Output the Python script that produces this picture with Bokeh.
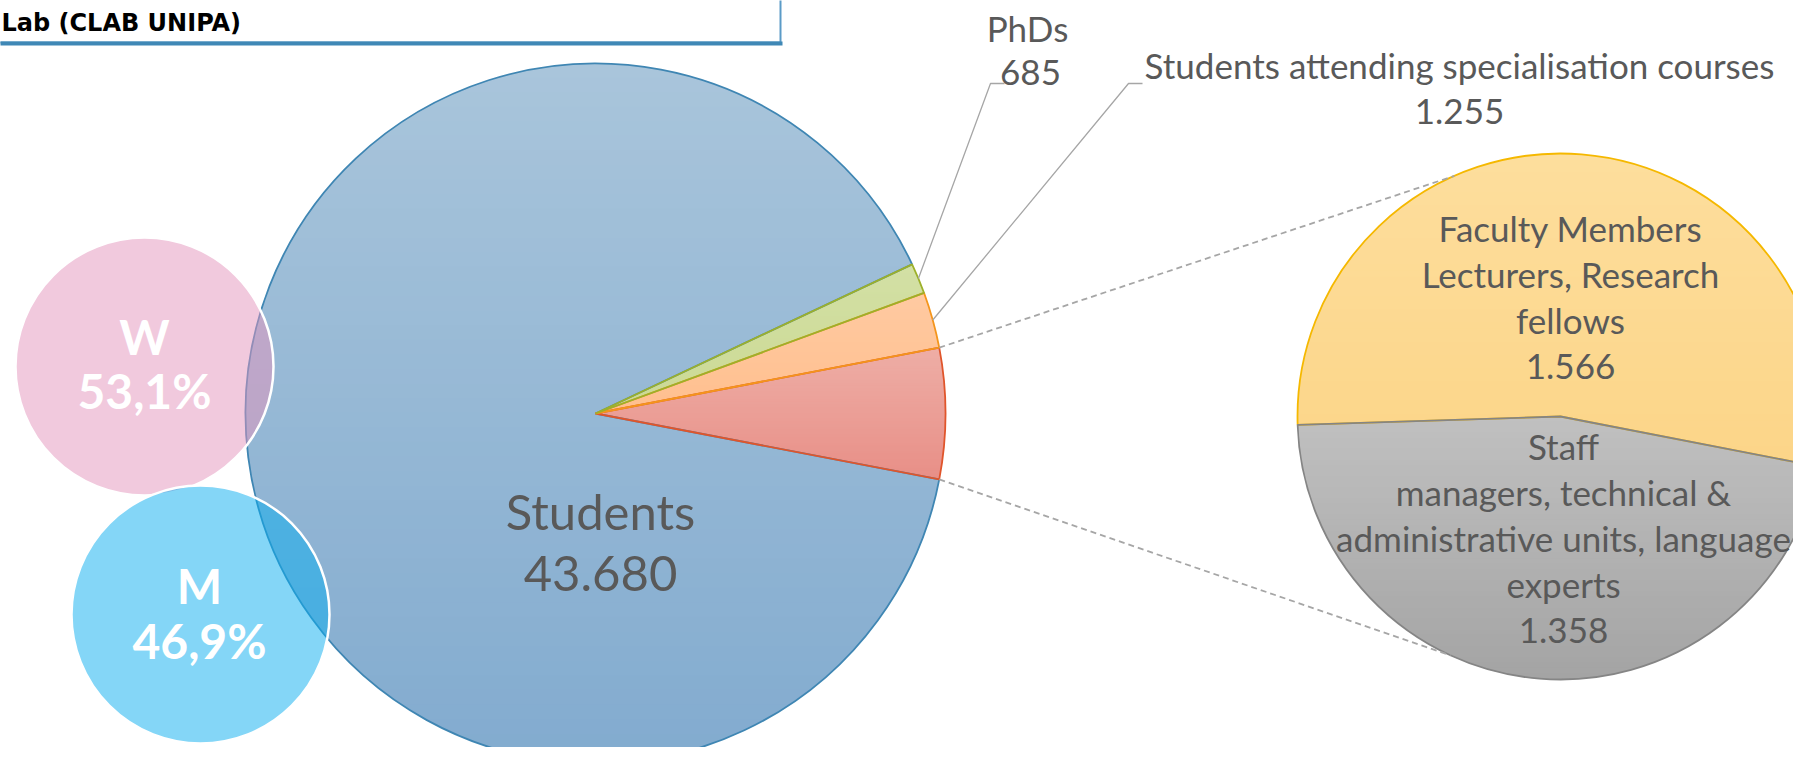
import numpy as np
from bokeh.plotting import figure
from bokeh.models import Range1d, ColumnDataSource
from bokeh.core.properties import value
from bokeh.embed import file_html
from bokeh.resources import INLINE

# ---------------- data ----------------
main_names = ["Students", "PhDs", "Students attending specialisation courses"]
main_values = [43680, 685, 1255]
main_value_labels = ["43.680", "685", "1.255"]

sec_names = [["Faculty Members", "Lecturers, Research", "fellows"],
             ["Staff", "managers, technical &", "administrative units, language", "experts"]]
sec_values = [1566, 1358]
sec_value_labels = ["1.566", "1.358"]

gender_names = ["W", "M"]
gender_share = ["53,1%", "46,9%"]

title_text = "Lab (CLAB UNIPA)"

# ---------------- style / layout ----------------
W, H = 1793, 747
FONT = "Lato"
TXT = "#595959"


def Y(sy):  # screen y (from top) -> data y
    return H - sy


p = figure(width=W, height=H, output_backend="svg", toolbar_location=None,
           x_range=Range1d(0, W), y_range=Range1d(0, H),
           min_border=0, outline_line_color=None)
p.axis.visible = False
p.grid.visible = False
p.background_fill_color = "white"
p.border_fill_color = "white"


# ---------------- helpers for gradient fills ----------------
def hex2rgb(h):
    h = h.lstrip("#")
    return np.array([int(h[i:i + 2], 16) for i in (0, 2, 4)], dtype=float)


def rgb2hex(c):
    return "#%02x%02x%02x" % tuple(int(round(v)) for v in c)


def clip_half(poly, yc, keep_above):
    out = []
    n = len(poly)
    inside = (lambda q: q[1] >= yc) if keep_above else (lambda q: q[1] <= yc)
    for i in range(n):
        a, b = poly[i], poly[(i + 1) % n]
        ia, ib = inside(a), inside(b)
        if ia:
            out.append(a)
        if ia != ib:
            t = (yc - a[1]) / (b[1] - a[1])
            out.append((a[0] + t * (b[0] - a[0]), yc))
    return out


def gradient_wedge(cx, cy, r, a0, a1, top, bottom, nb=48):
    ang = np.linspace(a0, a1, max(8, int(abs(a1 - a0) / (2 * np.pi) * 360)))
    poly = [(cx, cy)] + [(cx + r * np.cos(t), cy + r * np.sin(t)) for t in ang]
    ys = [q[1] for q in poly]
    y0, y1 = min(ys), max(ys)
    ct, cb = hex2rgb(top), hex2rgb(bottom)
    edges = np.linspace(y1, y0, nb + 1)
    xs_l, ys_l, cols = [], [], []
    for i in range(nb):
        hi, lo = edges[i] + 0.8, edges[i + 1] - 0.8
        pp = clip_half(clip_half(poly, hi, False), lo, True)
        if len(pp) < 3:
            continue
        f = (i + 0.5) / nb
        xs_l.append([q[0] for q in pp])
        ys_l.append([q[1] for q in pp])
        cols.append(rgb2hex(ct + (cb - ct) * f))
    p.patches(xs=xs_l, ys=ys_l, fill_color=cols, line_color=None)


# ---------------- title box ----------------
p.quad(left=[-20], right=[780], top=[Y(-20)], bottom=[Y(42)],
       fill_color="white", line_color="#5B9BC7", line_width=2)
p.segment(x0=[-20], y0=[Y(43)], x1=[782], y1=[Y(43)], line_color="#3F88B6", line_width=4)
p.text(x=[1], y=[Y(22)], text=[title_text], text_font=value("DejaVu Sans"),
       text_font_style="bold", text_font_size="24px", text_color="black",
       text_baseline="middle", text_align="left")

# ---------------- main pie ----------------
cx, cy, R = 595, Y(413), 350
other_total = sum(sec_values)
total = sum(main_values) + other_total


def ang(v):
    return v / total * 2 * np.pi


a_other = ang(other_total)
a_spec = ang(main_values[2])
a_phd = ang(main_values[1])

s_other, e_other = -a_other / 2, a_other / 2
s_spec, e_spec = e_other, e_other + a_spec
s_phd, e_phd = e_spec, e_spec + a_phd
s_stu, e_stu = e_phd, 2 * np.pi - a_other / 2

starts = [s_stu, s_other, s_spec, s_phd]
ends = [e_stu, e_other, e_spec, e_phd]
tops = ["#A9C5DB", "#EEAEA6", "#FFCAA2", "#D3E0A5"]
bots = ["#82ABCF", "#E88F87", "#FFBF8E", "#CBD993"]
for s, e, t, b in zip(starts, ends, tops, bots):
    gradient_wedge(cx, cy, R, s, e, t, b)

wedges = ColumnDataSource(dict(
    start=starts, end=ends,
    line=["#3F86B3", "#E0552B", "#F4951C", "#9DB02A"],
))
p.wedge(x=cx, y=cy, radius=R, start_angle="start", end_angle="end",
        fill_color=None, line_color="line", line_width=1.8, source=wedges)

# ---------------- secondary pie ----------------
sx, sy, r2 = 1560, Y(416), 263
sec_total = sum(sec_values)
sec_start = np.deg2rad(-11.0)
a_fac = sec_values[0] / sec_total * 2 * np.pi
sec_s = [sec_start, sec_start + a_fac]
sec_e = [sec_start + a_fac, sec_start + 2 * np.pi]
gradient_wedge(sx, sy, r2, sec_s[0], sec_e[0], "#FDDE9D", "#FCD588")
gradient_wedge(sx, sy, r2, sec_s[1], sec_e[1], "#C0C0C0", "#A4A4A4")
p.wedge(x=sx, y=sy, radius=r2, start_angle=sec_s, end_angle=sec_e,
        fill_color=None, line_color=["#F5B800", "#858585"], line_width=1.8)

# connector lines (dashed)
ct = np.deg2rad(113.8)
cb = np.deg2rad(-114.7)
p.segment(x0=[cx + R * np.cos(e_other), cx + R * np.cos(s_other)],
          y0=[cy + R * np.sin(e_other), cy + R * np.sin(s_other)],
          x1=[sx + r2 * np.cos(ct), sx + r2 * np.cos(cb)],
          y1=[sy + r2 * np.sin(ct), sy + r2 * np.sin(cb)],
          line_color="#A6A6A6", line_width=1.8, line_dash="6 4")

# leader lines
m_phd = (s_phd + e_phd) / 2
m_spec = (s_spec + e_spec) / 2
p.multi_line(xs=[[cx + R * np.cos(m_phd), 990, 1004], [cx + R * np.cos(m_spec), 1128, 1142]],
             ys=[[cy + R * np.sin(m_phd), Y(83), Y(83)], [cy + R * np.sin(m_spec), Y(83), Y(83)]],
             line_color="#A6A6A6", line_width=1.3)

# ---------------- W / M circles ----------------
p.circle(x=[144, 200], y=[Y(366), Y(614)], radius=129,
         fill_color=["#E393BB", "#09ADEF"], fill_alpha=0.5,
         line_color="white", line_width=2.5)


def txt(x, y, s, size, color=TXT, bold=False, align="center"):
    p.text(x=[x], y=[y], text=[s], text_font=value(FONT), text_font_size=size,
           text_color=color, text_align=align, text_baseline="middle",
           text_font_style="bold" if bold else "normal")


# gender labels
txt(144, Y(336), gender_names[0], "48px", "white", True)
txt(144, Y(390), gender_share[0], "48px", "white", True)
txt(199, Y(585), gender_names[1], "48px", "white", True)
txt(199, Y(640), gender_share[1], "48px", "white", True)

# main labels
txt(600, Y(510), main_names[0], "49px")
txt(600, Y(573), main_value_labels[0], "49px")
txt(1027, Y(27), main_names[1], "35px")
txt(1030, Y(72), main_value_labels[1], "35px")
txt(1459, Y(64), main_names[2], "35px")
txt(1459, Y(111), main_value_labels[2], "35px")

# secondary labels
LS = 46.3
fac_lines = sec_names[0] + [sec_value_labels[0]]
for i, s in enumerate(fac_lines):
    txt(1570, Y(227 + i * LS), s, "35px")
staff_lines = sec_names[1] + [sec_value_labels[1]]
for i, s in enumerate(staff_lines):
    txt(1563, Y(445 + i * LS), s, "35px")

open("out.html", "w").write(file_html(p, INLINE))
